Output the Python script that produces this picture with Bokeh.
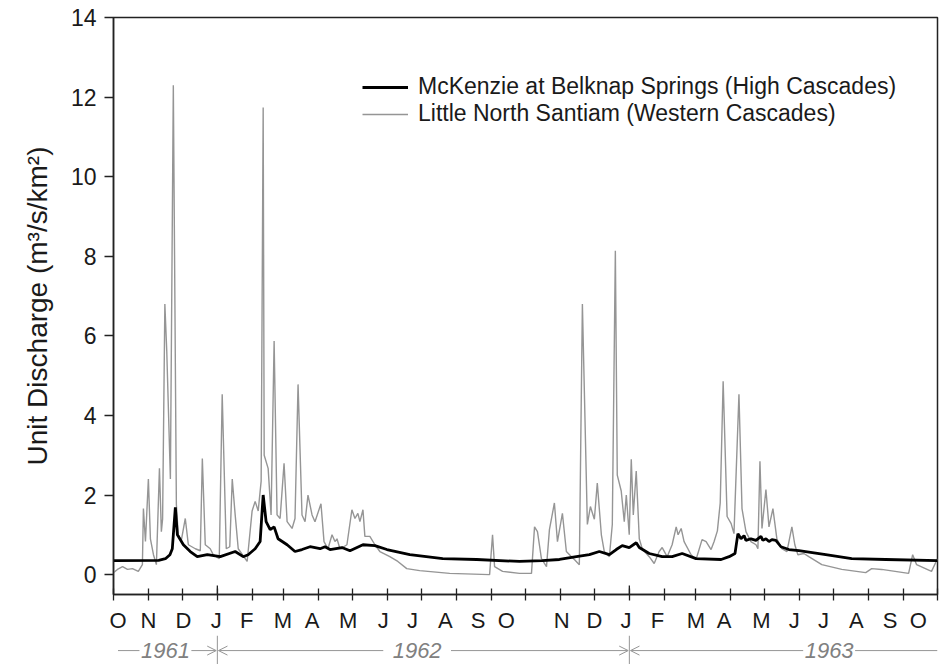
import pandas as pd
from bokeh.plotting import figure
from bokeh.models import (Range1d, FixedTicker, Legend, LegendItem,
                          Arrow, OpenHead)
from bokeh.layouts import column
from bokeh.core.properties import value
from bokeh.embed import file_html
from bokeh.resources import INLINE

# ---------------- data (days since 1961-10-01, unit discharge m3/s/km2) -------------
START = "1961-10-01"
END = "1963-10-01"

santiam_day = [0, 3.5, 8, 12.4, 16.8, 22, 25.6, 26.5, 28.3, 30.9, 32.7, 35.4, 38, 40.7, 42.4,
               43.5, 45.5, 47.2, 50.4, 53, 55.7, 57.4, 60, 63.6, 66.3, 72.5, 76.9, 78.7, 81.3,
               85.7, 88.4, 93.7, 96.3, 99.9, 103, 105.2, 107.8, 110.5, 118.4, 122.8, 125.5,
               128.2, 130.8, 132.6, 133.5, 137, 139.6, 142.3, 144.9, 147.6, 151.1, 153.8,
               158.2, 160.8, 163.5, 167, 169.7, 172.3, 175.9, 178.5, 183.8, 186.5, 190,
               193.6, 196.2, 198, 200.6, 204, 206.8, 211.2, 213.9, 216.5, 218.3, 221, 222.7,
               227.1, 231.6, 236, 244.8, 251.9, 259.8, 271.3, 297.8, 333.2, 335.8, 337.6,
               344.7, 359.7, 370.3, 373, 375.6, 379.1, 383.6, 386.2, 390.6, 393.3, 397.7,
               401.2, 405.7, 408.3, 412.7, 415.4, 419.8, 422.5, 426, 428.6, 432.2, 434.8,
               439.3, 441.9, 444.6, 446.3, 449.8, 452.5, 454.3, 456.9, 458.7, 460.5, 463.1,
               465.8, 468.4, 474.6, 479, 483.4, 486.1, 490.5, 494.9, 498.5, 500.2, 502.9,
               505.5, 511.7, 516.1, 521.4, 525, 529.4, 532.1, 535, 537.5, 540.1, 543.6,
               547.2, 549.7, 554.1, 556.8, 560.3, 564.7, 569.2, 570.9, 572.7, 574.5, 578,
               580.7, 584.2, 587.7, 592.1, 596.6, 601, 603.6, 606.3, 611.6, 616, 627.5,
               645.2, 666.4, 671.7, 680.5, 704.4, 708, 711.5, 724.7, 730]
santiam_q = [0.05, 0.13, 0.2, 0.13, 0.15, 0.08, 0.25, 1.66, 0.83, 2.4, 0.9, 0.5, 0.25, 2.67, 1.08,
             1.4, 6.8, 5.6, 2.4, 12.3, 1.76, 1.0, 0.85, 1.41, 0.75, 0.65, 0.6, 2.92, 0.75,
             0.65, 0.5, 0.4, 4.53, 0.65, 0.7, 2.4, 1.5, 0.65, 0.33, 1.6, 1.84,
             1.6, 2.35, 11.74, 3.0, 2.67, 1.5, 5.87, 1.5, 1.41, 2.8, 1.33,
             1.16, 1.41, 4.78, 1.5, 1.33, 2.0, 1.5, 1.33, 1.78, 0.83, 0.65,
             1.0, 0.83, 0.9, 0.65, 0.7, 0.75, 1.63, 1.41, 1.54, 1.33, 1.63, 0.96,
             0.96, 0.75, 0.58, 0.45, 0.33, 0.15, 0.1, 0.03, 0.0, 1.0, 0.2,
             0.08, 0.03, 0.03, 1.2, 1.08, 0.4, 0.2, 1.13, 1.8, 0.83, 1.54,
             0.58, 0.45, 0.38, 0.25, 6.8, 1.26, 1.71, 1.39, 2.3, 1.0, 0.58,
             0.45, 1.26, 8.14, 2.5, 2.1, 1.33, 2.0, 1.0, 2.9, 1.5, 2.6,
             0.9, 0.65, 0.45, 0.28, 0.58, 0.68, 0.45, 0.75, 1.2, 1.0, 1.16,
             0.83, 0.5, 0.38, 0.88, 0.83, 0.63, 0.83, 1.1, 1.8, 4.86, 1.46,
             1.28, 1.03, 4.53, 1.66, 1.08, 0.83, 0.75, 0.65, 2.85, 1.16, 2.14,
             1.2, 1.66, 0.9, 0.65, 0.58, 1.2, 0.75, 0.5, 0.53, 0.45, 0.25,
             0.13, 0.05, 0.15, 0.13, 0.03, 0.5, 0.25, 0.08, 0.4]

mckenzie_day = [0, 40, 46, 50, 52.1, 54.8, 56.6, 61.9, 68, 74.2, 83.1, 94.6, 107.8, 114.9, 119.3,
                125.5, 129.9, 132.6, 135.2, 138.8, 142.3, 145.8, 153.8, 160.8, 167, 174.1,
                183, 187.4, 191.8, 202.4, 209.5, 221, 231.6, 242.2, 262.5, 291.7, 321.7,
                359.7, 380, 395.1, 410.1, 421.6, 430.4, 439.3, 445.4, 450.7, 456.9, 463.1,
                465.8, 474.6, 486.1, 494.9, 503.8, 516.1, 538.3, 545.4, 550.6, 552.4, 553.2,
                555.9, 558.6, 560.3, 564.7, 569.2, 573.6, 575.3, 578, 580.7, 583.3, 586.8,
                591.3, 598.3, 607.2, 631, 654, 684.1, 730]
mckenzie_q = [0.35, 0.36, 0.4, 0.5, 0.65, 1.69, 1.0, 0.75, 0.58, 0.45, 0.5, 0.45, 0.58, 0.45, 0.5,
              0.65, 0.83, 2.0, 1.33, 1.13, 1.2, 0.9, 0.75, 0.58, 0.63, 0.7,
              0.65, 0.7, 0.63, 0.68, 0.6, 0.75, 0.73, 0.63, 0.5, 0.4, 0.38,
              0.33, 0.35, 0.38, 0.45, 0.5, 0.58, 0.5, 0.63, 0.73, 0.68, 0.8,
              0.68, 0.53, 0.45, 0.45, 0.53, 0.4, 0.38, 0.45, 0.53, 0.88, 1.03,
              0.9, 0.98, 0.86, 0.9, 0.86, 0.96, 0.86, 0.9, 0.83, 0.88, 0.86,
              0.7, 0.63, 0.6, 0.5, 0.4, 0.38, 0.35]

month_letters = ["O", "N", "D", "J", "F", "M", "A", "M", "J", "J", "A", "S", "O",
                 "N", "D", "J", "F", "M", "A", "M", "J", "J", "A", "S", "O"]
month_label_day = [4, 31, 62, 91, 118, 150, 176, 208, 239, 265, 294, 323, 348,
                   397, 426, 454, 482, 516, 541, 574, 603, 629, 658, 688, 713]
year_labels = ["1961", "1962", "1963"]
y_ticks = [0, 2, 4, 6, 8, 10, 12, 14]

label_santiam = "Little North Santiam (Western Cascades)"
label_mckenzie = "McKenzie at Belknap Springs (High Cascades)"
y_title = "Unit Discharge (m\u00b3/s/km\u00b2)"

# ---------------- derived tick positions --------------------------------------------
start = pd.Timestamp(START)
months = pd.date_range(START, END, freq="MS")
month_starts = [(d - start).days for d in months]
jan_days = [(d - start).days for d in months if d.month == 1]
total_days = (pd.Timestamp(END) - start).days

FONT = "Liberation Sans"
TXT = "#1a1a1a"
AX = "#222222"
GRAY = "#959595"
Y0, Y1 = -0.5, 14

# ---------------- main figure -------------------------------------------------------
p = figure(width=942, height=635, x_range=Range1d(0, total_days), y_range=Range1d(Y0, Y1),
           output_backend="svg", toolbar_location=None,
           min_border_left=113, min_border_right=5, min_border_top=17, min_border_bottom=41)
p.grid.visible = False
p.outline_line_color = AX
p.outline_line_width = 1.5
p.background_fill_color = "white"
p.border_fill_color = "white"

r_s = p.line(santiam_day, santiam_q, line_color=GRAY, line_width=1.4)
r_m = p.line(mckenzie_day, mckenzie_q, line_color="black", line_width=2.8)

# longer inner part of the January ticks
jan_len = 9 * (Y1 - Y0) / 577
p.segment(x0=jan_days, y0=[Y0] * len(jan_days), x1=jan_days, y1=[Y0 + jan_len] * len(jan_days),
          line_color=AX, line_width=1.3)

# y axis
ya = p.yaxis[0]
ya.ticker = FixedTicker(ticks=y_ticks)
ya.major_tick_in = 0
ya.major_tick_out = 9
ya.minor_tick_line_color = None
ya.axis_line_width = 1.5
ya.axis_line_color = AX
ya.major_tick_line_color = AX
ya.major_tick_line_width = 1.5
ya.major_label_text_font = FONT
ya.major_label_text_font_size = "23px"
ya.major_label_text_color = TXT
ya.major_label_standoff = 8
ya.axis_label = y_title
ya.axis_label_text_font = FONT
ya.axis_label_text_font_size = "28px"
ya.axis_label_text_font_style = "normal"
ya.axis_label_text_color = TXT
ya.axis_label_standoff = 15

# x axis: month letters as major labels, month starts as minor tick marks
xa = p.xaxis[0]
xa.ticker = FixedTicker(ticks=month_label_day, minor_ticks=month_starts)
xa.major_label_overrides = {d: m for d, m in zip(month_label_day, month_letters)}
xa.major_tick_line_color = None
xa.major_tick_in = 0
xa.major_tick_out = 0
xa.minor_tick_in = 6
xa.minor_tick_out = 6
xa.axis_line_width = 1.5
xa.axis_line_color = AX
xa.minor_tick_line_color = AX
xa.minor_tick_line_width = 1.3
xa.major_label_standoff = 7
xa.major_label_text_font = FONT
xa.major_label_text_font_size = "22px"
xa.major_label_text_color = TXT

legend = Legend(items=[LegendItem(label=label_mckenzie, renderers=[r_m]),
                       LegendItem(label=label_santiam, renderers=[r_s])],
                location=(249, 467))
legend.border_line_color = None
legend.background_fill_alpha = 0
legend.glyph_width = 46
legend.glyph_height = 24
legend.label_height = 24
legend.label_standoff = 10
legend.padding = 0
legend.margin = 0
legend.spacing = 0
legend.label_text_font = FONT
legend.label_text_font_size = "23px"
legend.label_text_line_height = 1.1
legend.label_text_color = TXT
p.add_layout(legend)

# ---------------- year strip ----------------------------------------------------------
p2 = figure(width=942, height=29, x_range=p.x_range, y_range=Range1d(0, 1),
            output_backend="svg", toolbar_location=None,
            x_axis_location=None, y_axis_location=None,
            min_border_left=113, min_border_right=5, min_border_top=0, min_border_bottom=0)
p2.grid.visible = False
p2.outline_line_color = None
p2.border_fill_color = "white"

bounds = [0] + jan_days + [total_days]
text_x = [46, 269, 634]
half_gap = [23, 30, 23]
ym = 0.48
p2.segment(x0=jan_days, y0=[0.0] * len(jan_days), x1=jan_days, y1=[1.0] * len(jan_days),
           line_color=GRAY, line_width=1)
p2.text(x=text_x, y=[ym] * 3, text=year_labels, text_align="center", text_baseline="middle",
        text_font=value(FONT), text_font_size="22px", text_font_style="italic", text_color="#808080")
for i in range(3):
    a, b = bounds[i], bounds[i + 1]
    left_end = text_x[i] - half_gap[i]
    right_start = text_x[i] + half_gap[i]
    if i == 0:
        p2.segment(x0=[a + 4], y0=[ym], x1=[left_end], y1=[ym], line_color=GRAY, line_width=1)
    else:
        p2.add_layout(Arrow(end=OpenHead(size=9, line_color=GRAY, line_width=1),
                            x_start=left_end, y_start=ym, x_end=a + 1, y_end=ym,
                            line_color=GRAY, line_width=1))
    if i == 2:
        p2.segment(x0=[right_start], y0=[ym], x1=[b], y1=[ym], line_color=GRAY, line_width=1)
    else:
        p2.add_layout(Arrow(end=OpenHead(size=9, line_color=GRAY, line_width=1),
                            x_start=right_start, y_start=ym, x_end=b - 1, y_end=ym,
                            line_color=GRAY, line_width=1))

layout = column(p, p2, spacing=0)
open("out.html", "w").write(file_html(layout, INLINE))
